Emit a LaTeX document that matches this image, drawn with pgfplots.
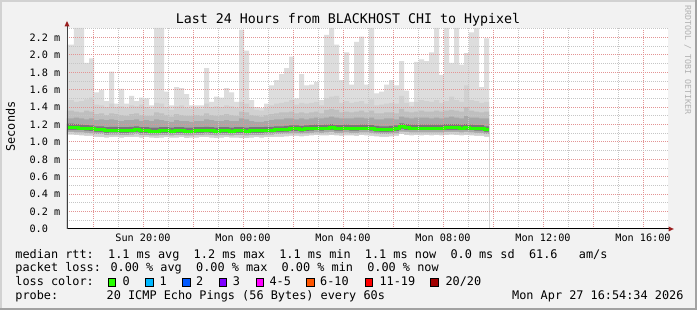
\documentclass[border=0pt]{standalone}
\usepackage{pgfplots}
\usepackage{pgfplotstable}
\pgfplotsset{compat=1.18}
\usepackage{fontspec}
\setmainfont{DejaVu Sans Mono}
\newfontfamily\mono{DejaVu Sans Mono}
\newcommand\titlefont{\mono\fontsize{13.3}{15}\selectfont}
\newcommand\legfont{\mono\fontsize{11.85}{14}\selectfont}
\newcommand\ticksfont{\mono\fontsize{10.2}{12}\selectfont}
\newcommand\rrdfont{\mono\fontsize{8.3}{10}\selectfont}

\definecolor{canvas}{HTML}{F2F2F2}
\definecolor{frameL}{HTML}{D2D2D2}
\definecolor{frameD}{HTML}{A2A2A2}
\definecolor{gridred}{HTML}{E39494}
\definecolor{gridgrey}{HTML}{C6C6C6}
\definecolor{arrowred}{HTML}{9A1E1E}
\definecolor{cA}{HTML}{DDDDDD}
\definecolor{cB}{HTML}{D1D1D1}
\definecolor{cC}{HTML}{BFBFBF}
\definecolor{cD}{HTML}{A8A8A8}
\definecolor{cE}{HTML}{787878}
\definecolor{med}{HTML}{26FF00}
\definecolor{l1}{HTML}{00B8FF}
\definecolor{l2}{HTML}{0059FF}
\definecolor{l3}{HTML}{7E00FF}
\definecolor{l4}{HTML}{FF00FF}
\definecolor{l6}{HTML}{FF5500}
\definecolor{l11}{HTML}{FF0000}
\definecolor{l20}{HTML}{A10000}

\pgfplotstableread{
x hi1 hi2 hi3 hi4 hi5 med loA loB loC
-0.4 2.12 1.48 1.36 1.27 1.21 1.165 1.14 1.115 1.085
1 2.31 1.46 1.35 1.28 1.205 1.165 1.14 1.11 1.08
2 2.31 1.47 1.34 1.27 1.20 1.16 1.135 1.11 1.075
3 1.91 1.49 1.36 1.26 1.195 1.155 1.13 1.105 1.07
4 1.96 1.51 1.35 1.27 1.19 1.15 1.125 1.10 1.07
5 1.57 1.43 1.32 1.25 1.18 1.14 1.115 1.09 1.06
6 1.60 1.42 1.33 1.26 1.18 1.14 1.115 1.09 1.055
7 1.47 1.40 1.31 1.25 1.17 1.13 1.105 1.08 1.05
8 1.81 1.44 1.33 1.26 1.175 1.135 1.11 1.085 1.055
9 1.44 1.40 1.32 1.25 1.175 1.135 1.11 1.085 1.06
10 1.61 1.41 1.31 1.24 1.17 1.13 1.105 1.08 1.05
11 1.44 1.39 1.30 1.25 1.17 1.13 1.105 1.08 1.055
12 1.53 1.42 1.32 1.25 1.175 1.135 1.11 1.085 1.055
13 1.47 1.41 1.33 1.26 1.18 1.14 1.115 1.09 1.06
14 1.51 1.43 1.31 1.24 1.17 1.13 1.105 1.08 1.05
15 1.50 1.40 1.30 1.25 1.17 1.13 1.105 1.08 1.055
16 1.42 1.38 1.30 1.24 1.165 1.125 1.10 1.075 1.05
17 2.31 1.45 1.34 1.26 1.165 1.125 1.10 1.075 1.045
18 2.31 1.44 1.33 1.25 1.17 1.13 1.105 1.08 1.05
19 1.58 1.40 1.31 1.24 1.17 1.13 1.105 1.08 1.055
20 1.42 1.37 1.29 1.23 1.165 1.125 1.10 1.075 1.05
21 1.63 1.41 1.32 1.25 1.17 1.13 1.105 1.08 1.05
22 1.62 1.42 1.31 1.24 1.17 1.13 1.105 1.08 1.055
23 1.55 1.39 1.30 1.24 1.165 1.125 1.10 1.075 1.045
24 1.42 1.38 1.30 1.23 1.165 1.125 1.10 1.075 1.05
25 1.42 1.39 1.31 1.24 1.17 1.13 1.105 1.08 1.05
26 1.42 1.38 1.30 1.24 1.17 1.13 1.105 1.08 1.055
27 1.85 1.44 1.33 1.26 1.175 1.135 1.11 1.085 1.055
28 1.46 1.40 1.31 1.25 1.17 1.13 1.105 1.08 1.05
29 1.52 1.41 1.30 1.24 1.165 1.125 1.10 1.075 1.045
30 1.51 1.40 1.31 1.24 1.17 1.13 1.105 1.08 1.05
31 1.62 1.42 1.32 1.25 1.17 1.13 1.105 1.08 1.055
32 1.57 1.41 1.31 1.24 1.165 1.125 1.10 1.075 1.05
33 1.46 1.39 1.30 1.24 1.17 1.13 1.105 1.08 1.05
34 2.29 1.46 1.35 1.27 1.17 1.13 1.105 1.08 1.045
35 2.05 1.44 1.34 1.26 1.165 1.125 1.10 1.075 1.045
36 1.48 1.40 1.31 1.24 1.17 1.13 1.105 1.08 1.05
37 1.40 1.37 1.30 1.23 1.17 1.13 1.105 1.08 1.055
38 1.39 1.36 1.29 1.23 1.17 1.13 1.105 1.08 1.05
39 1.44 1.39 1.31 1.24 1.175 1.135 1.11 1.085 1.055
40 1.65 1.42 1.32 1.25 1.175 1.135 1.11 1.085 1.055
41 1.71 1.44 1.33 1.26 1.18 1.14 1.115 1.09 1.06
42 1.78 1.45 1.34 1.26 1.18 1.14 1.115 1.09 1.06
43 1.85 1.46 1.34 1.27 1.185 1.145 1.12 1.095 1.065
44 1.98 1.48 1.35 1.27 1.19 1.15 1.125 1.10 1.07
45 1.50 1.43 1.33 1.26 1.19 1.15 1.125 1.10 1.07
46 1.78 1.45 1.34 1.27 1.185 1.145 1.12 1.095 1.065
47 1.65 1.44 1.33 1.26 1.19 1.15 1.125 1.10 1.07
48 1.66 1.45 1.34 1.27 1.195 1.155 1.13 1.105 1.075
49 1.69 1.46 1.35 1.28 1.20 1.16 1.135 1.11 1.08
50 1.48 1.42 1.33 1.27 1.195 1.155 1.13 1.105 1.075
51 2.23 1.50 1.37 1.28 1.20 1.16 1.135 1.11 1.075
52 2.31 1.52 1.38 1.29 1.205 1.165 1.14 1.115 1.08
53 2.12 1.53 1.37 1.28 1.195 1.155 1.13 1.105 1.075
54 1.71 1.45 1.34 1.27 1.195 1.155 1.13 1.105 1.07
55 2.03 1.47 1.35 1.27 1.20 1.16 1.135 1.11 1.075
56 1.66 1.45 1.34 1.27 1.195 1.155 1.13 1.105 1.075
57 2.15 1.46 1.35 1.28 1.195 1.155 1.13 1.105 1.07
58 2.21 1.47 1.36 1.28 1.20 1.16 1.135 1.11 1.08
59 1.66 1.44 1.34 1.27 1.20 1.16 1.135 1.11 1.075
60 2.31 1.49 1.36 1.28 1.195 1.155 1.13 1.105 1.07
61 1.56 1.42 1.33 1.26 1.185 1.145 1.12 1.095 1.065
62 1.58 1.43 1.33 1.26 1.18 1.14 1.115 1.09 1.06
63 1.66 1.44 1.34 1.27 1.18 1.14 1.115 1.09 1.06
64 1.71 1.45 1.34 1.27 1.185 1.145 1.12 1.095 1.065
65 1.65 1.44 1.33 1.26 1.19 1.15 1.125 1.10 1.07
66 1.93 1.53 1.38 1.29 1.215 1.175 1.15 1.12 1.09
67 1.59 1.45 1.35 1.28 1.205 1.165 1.14 1.115 1.08
68 1.46 1.41 1.34 1.27 1.20 1.16 1.135 1.11 1.075
69 1.92 1.46 1.35 1.28 1.20 1.16 1.135 1.11 1.08
70 1.95 1.48 1.36 1.28 1.20 1.16 1.135 1.11 1.075
71 1.93 1.47 1.35 1.28 1.20 1.16 1.135 1.11 1.08
72 2.03 1.46 1.35 1.27 1.20 1.16 1.135 1.11 1.075
73 2.31 1.48 1.36 1.28 1.20 1.16 1.135 1.11 1.08
74 1.77 1.45 1.35 1.27 1.20 1.16 1.135 1.11 1.075
75 2.31 1.47 1.36 1.28 1.205 1.165 1.14 1.115 1.08
76 1.91 1.52 1.37 1.29 1.205 1.165 1.14 1.115 1.085
77 2.31 1.48 1.36 1.28 1.205 1.165 1.14 1.115 1.08
78 1.89 1.46 1.35 1.27 1.20 1.16 1.135 1.11 1.075
79 2.02 1.65 1.40 1.30 1.205 1.165 1.14 1.115 1.08
80 2.26 1.48 1.36 1.28 1.20 1.16 1.135 1.11 1.075
81 2.31 1.47 1.35 1.28 1.195 1.155 1.13 1.105 1.07
82 1.63 1.45 1.34 1.27 1.195 1.155 1.13 1.105 1.07
83 2.19 1.46 1.35 1.27 1.18 1.14 1.115 1.09 1.06
84 2.19 1.46 1.35 1.27 1.18 1.14 1.115 1.09 1.06
}\smoke

\begin{document}
\begin{tikzpicture}
\useasboundingbox (0,0) rectangle (697pt,310pt);
% canvas and frame
\fill[canvas] (0,0) rectangle (697pt,310pt);
\fill[frameL] (0,308pt) rectangle (697pt,310pt);
\fill[frameL] (0,0) rectangle (2pt,310pt);
\fill[frameD] (0,0) rectangle (697pt,2pt);
\fill[frameD] (694.5pt,0) rectangle (697pt,310pt);

\begin{axis}[
  at={(67pt,81pt)}, anchor=south west,
  scale only axis, width=601pt, height=201pt,
  xmin=-0.4, xmax=119.8, ymin=0, ymax=2.31,
  axis on top,
  axis line style={draw=none},
  axis background/.style={fill=white},
  xtick={4.8,14.8,24.8,34.8,44.8,54.8,64.8,74.8,84.8,94.8,104.8,114.8},
  xticklabels={,Sun 20:00,,Mon 00:00,,Mon 04:00,,Mon 08:00,,Mon 12:00,,Mon 16:00},
  minor xtick={9.8,19.8,29.8,39.8,49.8,59.8,69.8,79.8,89.8,99.8,109.8},
  ytick={0,0.2,0.4,0.6,0.8,1.0,1.2,1.4,1.6,1.8,2.0,2.2},
  yticklabels={0.0,0.2 m,0.4 m,0.6 m,0.8 m,1.0 m,1.2 m,1.4 m,1.6 m,1.8 m,2.0 m,2.2 m},
  minor ytick={0.1,0.3,0.5,0.7,0.9,1.1,1.3,1.5,1.7,1.9,2.1,2.3},
  grid=both,
  major grid style={color=gridred, line width=1pt, dash pattern=on 1pt off 1pt},
  minor grid style={color=gridgrey, line width=1pt, dash pattern=on 1pt off 1pt},
  major tick length=0pt, minor tick length=0pt,
  xticklabel style={font=\ticksfont, anchor=base, yshift=-12.5pt, inner sep=0pt},
  yticklabel style={font=\ticksfont, anchor=west, xshift=-37.6pt, inner sep=0pt},
]
\addplot[const plot, draw=none, fill=cA] table[x=x,y=hi1]{\smoke} \closedcycle;
\addplot[const plot, draw=none, fill=cB] table[x=x,y=hi2]{\smoke} \closedcycle;
\addplot[const plot, draw=none, fill=cC] table[x=x,y=hi3]{\smoke} \closedcycle;
\addplot[const plot, draw=none, fill=cD] table[x=x,y=hi4]{\smoke} \closedcycle;
\addplot[const plot, draw=none, fill=cE] table[x=x,y=hi5]{\smoke} \closedcycle;
\addplot[const plot, draw=none, fill=cD] table[x=x,y=loA]{\smoke} \closedcycle;
\addplot[const plot, draw=none, fill=cB] table[x=x,y=loB]{\smoke} \closedcycle;
\addplot[const plot, draw=none, fill=white] table[x=x,y=loC]{\smoke} \closedcycle;
\addplot[const plot, color=med, line width=3pt] table[x=x,y=med]{\smoke};
\end{axis}

% axis lines and arrows
\draw[line width=1pt, black] (67pt,81pt) -- (669pt,81pt);
\draw[line width=1pt, black!75] (67pt,81pt) -- (67pt,284pt);
\fill[arrowred] (668.5pt,83.5pt) -- (673.8pt,81pt) -- (668.5pt,78.5pt) -- cycle;
\fill[arrowred] (64.5pt,283.5pt) -- (67pt,289pt) -- (69.5pt,283.5pt) -- cycle;

% title and labels
\node[font=\titlefont, anchor=base, inner sep=0pt] at (348pt,286pt) {Last 24 Hours from BLACKHOST CHI to Hypixel};
\node[font=\legfont, anchor=base, rotate=90, inner sep=0pt] at (15pt,183.5pt) {Seconds};
\node[font=\rrdfont, anchor=base, rotate=-90, inner sep=0pt, text=black!30] at (685pt,250pt) {RRDTOOL / TOBI OETIKER};

% legend
\node[font=\legfont, anchor=base west, inner sep=0pt] at (15.2pt,51.8pt) {median rtt:\ \ 1.1 ms avg\ \ 1.2 ms max\ \ 1.1 ms min\ \ 1.1 ms now\ \ 0.0 ms sd\ \ 61.6\ \ \ am/s};
\node[font=\legfont, anchor=base west, inner sep=0pt] at (15.2pt,38pt) {packet loss: 0.00 \% avg\ \ 0.00 \% max\ \ 0.00 \% min\ \ 0.00 \% now};
\node[font=\legfont, anchor=base west, inner sep=0pt] at (15.2pt,24.2pt) {loss color:};
\node[font=\legfont, anchor=base west, inner sep=0pt] at (15.2pt,10.4pt) {probe:};
\node[font=\legfont, anchor=base west, inner sep=0pt] at (106.5pt,10.4pt) {20 ICMP Echo Pings (56 Bytes) every 60s};
\node[font=\legfont, anchor=base west, inner sep=0pt] at (512pt,10.4pt) {Mon Apr 27 16:54:34 2026};

\foreach \bx/\col/\tx/\lab in {108/med/122.3/{0}, 145.7/l1/159.3/{1}, 182.7/l2/196/{2}, 219/l3/232.6/{3}, 256/l4/269.3/{4-5}, 306.7/l6/320/{6-10}, 365/l11/379.3/{11-19}, 430.7/l20/445.3/{20/20}}{
  \filldraw[fill=\col, draw=black, line width=0.8pt] (\bx pt,23.8pt) rectangle ++(7.6pt,7.8pt);
  \node[font=\legfont, anchor=base west, inner sep=0pt] at (\tx pt,24.2pt) {\lab};
}
\end{tikzpicture}
\end{document}
